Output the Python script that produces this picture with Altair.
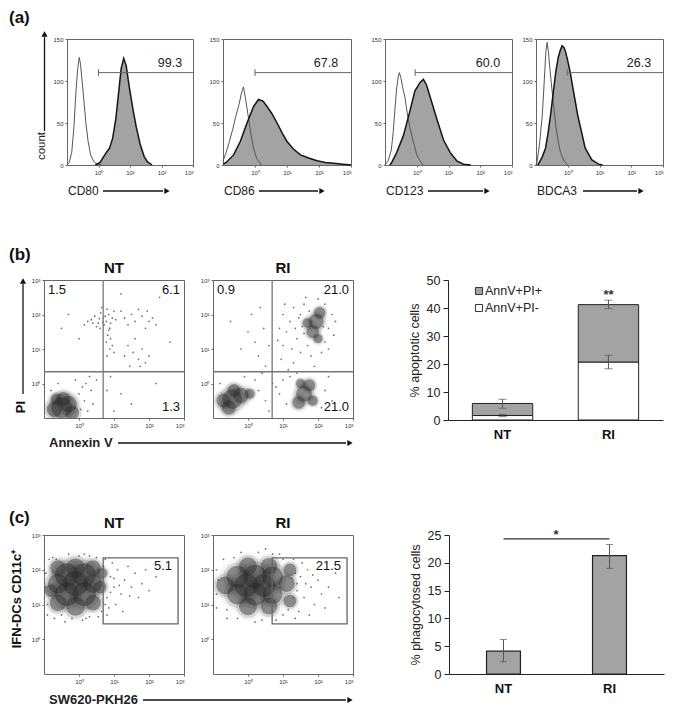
import altair as alt
import pandas as pd

FONT = "Liberation Sans"
INK = "#111111"
GREY_FILL = "#a3a3a3"
SUP = "'10' + ['\u2070','\u00b9','\u00b2','\u00b3'][datum.value]"

# ---------------- (a) histograms (x = log10 fluorescence, y = count)
hist_markers = ["CD80", "CD86", "CD123", "BDCA3"]
hist_gate_pct = ["99.3", "67.8", "60.0", "26.3"]
hist_gate_start = [0.0, 0.0, -0.05, -0.02]
hist_gate_end = 3.0
hist_gate_count = 110

cd80_ctrl_x = [-1.0, -0.93, -0.85, -0.78, -0.72, -0.66, -0.61, -0.57, -0.52, -0.46, -0.4, -0.33, -0.25, -0.15, -0.05, 0.1]
cd80_ctrl_y = [0, 3, 15, 45, 85, 115, 128, 120, 100, 75, 50, 28, 12, 4, 1, 0]
cd80_stain_x = [-0.1, 0.05, 0.15, 0.25, 0.35, 0.45, 0.55, 0.65, 0.72, 0.8, 0.88, 0.98, 1.1, 1.2, 1.32, 1.45, 1.55, 1.7]
cd80_stain_y = [0, 3, 9, 15, 20, 32, 55, 90, 115, 127, 118, 92, 65, 45, 25, 10, 4, 0]

cd86_ctrl_x = [-1.0, -0.9, -0.8, -0.7, -0.6, -0.5, -0.42, -0.36, -0.3, -0.22, -0.14, -0.06, 0.05, 0.2]
cd86_ctrl_y = [5, 15, 28, 42, 58, 72, 86, 93, 80, 60, 40, 22, 8, 0]
cd86_stain_x = [-1.0, -0.9, -0.67, -0.46, -0.25, -0.04, 0.11, 0.25, 0.37, 0.53, 0.69, 0.85, 1.0, 1.2, 1.42, 1.7, 1.94, 2.2, 2.46, 2.75, 3.0]
cd86_stain_y = [1, 3, 12, 28, 50, 70, 78, 76, 70, 61, 50, 38, 28, 19, 12, 8, 5, 3, 2, 1, 0]

cd123_ctrl_x = [-1.0, -0.9, -0.8, -0.74, -0.68, -0.63, -0.58, -0.55, -0.5, -0.44, -0.37, -0.3, -0.22, -0.11, 0.0, 0.1, 0.2]
cd123_ctrl_y = [0, 5, 18, 40, 70, 92, 106, 110, 104, 92, 80, 62, 45, 28, 12, 5, 0]
cd123_stain_x = [-0.85, -0.79, -0.63, -0.42, -0.21, -0.06, 0.1, 0.21, 0.31, 0.47, 0.63, 0.84, 1.05, 1.26, 1.47, 1.7]
cd123_stain_y = [0, 3, 15, 35, 65, 88, 98, 102, 95, 75, 55, 30, 15, 5, 1, 0]

bdca3_ctrl_x = [-1.0, -0.96, -0.88, -0.8, -0.74, -0.69, -0.65, -0.61, -0.57, -0.52, -0.47, -0.42, -0.37, -0.3, -0.23, -0.12, 0.0]
bdca3_ctrl_y = [0, 5, 28, 60, 100, 135, 146, 135, 118, 98, 80, 62, 45, 28, 15, 5, 0]
bdca3_stain_x = [-0.95, -0.91, -0.8, -0.7, -0.62, -0.54, -0.46, -0.38, -0.3, -0.24, -0.18, -0.12, -0.07, 0.0, 0.08, 0.16, 0.24, 0.32, 0.4, 0.55, 0.76, 0.97, 1.1]
bdca3_stain_y = [0, 2, 10, 20, 38, 60, 85, 110, 128, 136, 142, 140, 135, 124, 110, 92, 75, 58, 45, 20, 6, 1, 0]

# ---------------- (b) Annexin V / PI dot plots (log10 units)
b_quad_x = 0.69
b_quad_y = 0.34
b_nt_pct = ["1.5", "6.1", "1.3"]
b_ri_pct = ["0.9", "21.0", "21.0"]
b_nt_blobs = [(-0.5, -0.7, 55), (-0.3, -0.6, 35), (-0.7, -0.75, 30), (-0.45, -0.45, 25), (-0.2, -0.85, 25), (-0.65, -0.45, 15)]
b_nt_dots = [(0.35, 1.85), (0.45, 1.95), (0.55, 1.75), (0.62, 2.05), (0.7, 1.9), (0.78, 1.8), (0.85, 2.0), (0.5, 1.65),
             (0.6, 1.6), (0.72, 1.7), (0.9, 1.75), (0.95, 1.9), (1.0, 2.1), (0.4, 1.75), (0.25, 1.8), (0.15, 1.7),
             (0.65, 2.2), (0.8, 2.15), (1.05, 1.85), (0.58, 1.88), (0.68, 1.78), (0.75, 1.95), (0.88, 1.6),
             (1.3, 1.9), (1.5, 2.0), (1.6, 1.8), (1.8, 1.95), (1.95, 2.1), (2.1, 1.9), (1.7, 2.15), (1.4, 1.7),
             (2.2, 1.7), (1.9, 1.6), (1.2, 2.1), (2.0, 1.8),
             (0.82, 1.4), (0.78, 1.2), (0.88, 1.0), (0.8, 0.8), (0.9, 1.3), (0.95, 1.1), (1.0, 0.9), (0.85, 1.55),
             (1.4, 1.1), (1.55, 0.9), (1.7, 0.7), (1.8, 1.0), (1.9, 0.6), (1.6, 1.3), (1.75, 0.5), (2.0, 0.8),
             (1.45, 0.5), (1.3, 0.8),
             (-0.3, 2.0), (0.0, 1.3), (-0.5, 1.6), (1.2, 2.6), (2.3, 2.5), (2.6, 1.2),
             (0.0, -0.3), (0.1, -0.1), (0.2, 0.0), (0.3, 0.2), (0.15, -0.5), (0.35, -0.2), (-0.1, 0.1), (0.4, -0.6),
             (0.5, 0.1), (0.25, -0.8), (-0.8, -0.2), (-0.6, 0.0), (0.05, -0.75),
             (0.9, 0.2), (1.2, -0.3), (1.5, -0.6), (2.2, 0.0), (1.0, -0.8), (0.8, -0.2)]
b_ri_blobs = [(-0.45, -0.45, 50), (-0.2, -0.35, 30), (-0.7, -0.5, 25), (-0.4, -0.2, 20), (-0.55, -0.7, 25), (0.05, -0.3, 12),
              (1.6, -0.3, 32), (1.75, -0.05, 18), (1.45, -0.55, 20), (1.85, -0.5, 12), (1.5, 0.0, 10),
              (1.95, 1.8, 28), (1.85, 1.5, 20), (2.05, 2.05, 16), (1.7, 1.75, 12), (2.0, 1.3, 10)]
b_ri_dots = [(1.0, 2.0), (1.2, 1.8), (1.3, 2.2), (1.1, 1.5), (1.4, 1.3), (1.5, 2.0), (1.6, 2.3), (1.25, 1.0), (1.5, 0.9),
             (1.7, 1.1), (2.2, 1.2), (2.3, 1.6), (2.4, 2.0), (2.2, 2.3), (2.5, 1.8), (1.0, 1.1), (0.9, 1.6), (1.35, 1.6),
             (1.6, 1.45), (2.1, 0.9), (1.8, 0.8), (1.3, 0.6), (1.55, 1.65), (1.45, 1.9), (1.75, 2.1), (2.15, 1.65),
             (2.3, 1.0), (0.95, 0.7), (1.15, 0.4), (1.9, 0.5), (2.45, 1.4), (1.65, 2.5), (2.0, 2.45), (1.05, 2.3), (0.85, 1.25),
             (0.0, 1.5), (0.2, 1.2), (0.3, 0.8), (-0.2, 1.0), (0.1, 2.0), (0.45, 1.6), (0.5, 0.5), (-0.5, 1.8), (0.6, 1.1), (0.35, 2.2),
             (0.3, -0.2), (0.5, -0.5), (0.7, 0.0), (0.9, -0.3), (1.1, -0.6), (1.0, 0.1), (0.6, -0.8), (0.8, -0.1), (1.2, 0.2),
             (2.2, -0.2), (2.3, 0.2), (2.1, -0.7), (1.4, 0.3), (0.2, 0.1), (-0.1, 0.2), (-0.8, 0.0), (0.4, 0.3), (2.4, -0.5)]

# ---------------- (c) SW620-PKH26 uptake dot plots (log10 units)
c_gate = {"x0": 0.69, "x1": 2.83, "y0": 0.44, "y1": 2.34}
c_pct = ["5.1", "21.5"]
c_nt_blobs = [(-0.35, 1.85, 70), (0.15, 1.85, 70), (-0.35, 1.3, 70), (0.15, 1.3, 70), (-0.1, 1.6, 80), (-0.6, 1.6, 50),
              (0.4, 1.6, 45), (-0.1, 2.05, 45), (-0.1, 0.95, 45), (-0.6, 1.05, 35), (0.4, 1.05, 30), (-0.6, 2.05, 30),
              (0.4, 2.05, 30), (0.6, 1.5, 20), (0.65, 1.9, 15), (-0.8, 1.4, 20)]
c_nt_dots = [(0.8, 1.2), (0.9, 1.8), (1.0, 1.5), (1.1, 2.0), (1.2, 1.3), (0.85, 0.9), (1.3, 1.7), (1.5, 1.5), (1.4, 2.1),
             (1.6, 1.9), (1.7, 1.2), (1.8, 1.6), (1.9, 2.0), (2.0, 1.4), (0.95, 2.2), (1.05, 1.0), (1.25, 0.8), (0.75, 2.3),
             (0.8, 0.7), (-0.9, 0.7), (-0.7, 0.6), (-0.4, 0.5), (0.1, 0.55), (0.3, 0.65), (-0.85, 2.3), (-0.3, 2.45),
             (0.3, 2.4), (1.15, 1.55), (1.45, 1.25), (2.2, 1.8), (0.9, 1.35), (1.0, 1.75),
             (-0.9, 1.0), (-0.95, 1.9), (-0.75, 2.35), (0.0, 2.4), (0.5, 2.35), (0.65, 0.8), (0.2, 0.6), (-0.5, 0.7),
             (-0.95, 1.5), (0.7, 2.1), (0.75, 1.0), (-0.2, 0.6), (0.55, 0.65), (-0.65, 2.3), (0.15, 2.45)]
c_ri_blobs = [(-0.3, 1.8, 60), (0.2, 1.8, 70), (0.7, 1.8, 55), (-0.3, 1.3, 55), (0.2, 1.3, 65), (0.7, 1.3, 50),
              (-0.05, 1.55, 70), (0.45, 1.55, 65), (1.1, 1.6, 35), (-0.65, 1.55, 40), (0.0, 2.1, 40), (0.6, 2.1, 35),
              (0.0, 0.95, 40), (0.6, 0.95, 35), (1.2, 1.1, 20), (1.2, 2.0, 20)]
c_ri_dots = [(1.4, 1.4), (1.5, 1.8), (1.6, 1.2), (1.7, 2.0), (1.8, 1.5), (1.9, 1.0), (2.0, 1.7), (2.1, 1.3), (1.45, 0.8),
             (1.55, 2.2), (1.35, 0.6), (2.3, 1.5), (2.5, 1.9), (1.3, 2.3), (1.75, 0.7), (0.9, 2.45), (0.3, 2.5), (-0.4, 2.35),
             (-0.9, 0.9), (-0.6, 0.6), (0.2, 0.5), (0.8, 0.55), (2.2, 0.9), (1.65, 1.6), (1.85, 1.85), (1.25, 1.75),
             (2.6, 1.2), (0.5, 2.6),
             (-0.9, 1.3), (-0.9, 2.0), (-0.7, 2.3), (-0.2, 2.5), (1.0, 2.3), (1.3, 1.2), (1.35, 1.9), (1.0, 0.7),
             (0.4, 0.55), (-0.3, 0.6), (-0.85, 1.7), (1.4, 1.6), (0.7, 2.45), (1.15, 0.85), (-0.6, 0.85)]

# ---------------- bar charts
groups = ["NT", "RI"]
b_parts = ["AnnV+PI+", "AnnV+PI-"]
b_pi_neg = [1.6, 20.7]
b_pi_pos = [4.3, 20.5]
b_err_cat = ["NT", "NT", "RI", "RI"]
b_err_lo = [1.2, 4.2, 18.3, 39.8]
b_err_hi = [2.0, 7.4, 23.1, 42.8]
b_sig = "**"
b_sig_y = 44.8

c_vals = [4.1, 21.3]
c_err_lo = [2.2, 19.0]
c_err_hi = [6.2, 23.3]
c_sig = "*"
c_sig_line = 24.3
c_sig_y = 25.0

ONE = pd.DataFrame({"k": [0]})

# layout (pixels)
SPACE = 30
ROW_TOP = -38
ROW_A_BOTTOM = 239 - SPACE + ROW_TOP   # row (b) plots start 239 px below row (a) plots
ROW_B_BOTTOM = 253 - SPACE + ROW_TOP   # row (c) plots start 253 px below row (b) plots
LETTER_X = -35


def label(txt, x, y, size=12, weight="normal", angle=0, align="center", baseline="middle", color=INK):
    kw = dict(fontSize=size, fontWeight=weight, align=align, baseline=baseline, font=FONT, color=color)
    if angle:
        kw["angle"] = angle
    return alt.Chart(pd.DataFrame({"t": [txt]})).mark_text(**kw).encode(
        x=alt.value(x), y=alt.value(y), text="t:N")


def hline(x1, x2, y, color=INK, w=1.2):
    return alt.Chart(ONE).mark_rule(color=color, strokeWidth=w).encode(
        x=alt.value(x1), x2=alt.value(x2), y=alt.value(y))


def vline(x, y1, y2, color=INK, w=1.2):
    return alt.Chart(ONE).mark_rule(color=color, strokeWidth=w).encode(
        x=alt.value(x), y=alt.value(y1), y2=alt.value(y2))


def head(x, y, shape):
    return alt.Chart(ONE).mark_point(shape=shape, filled=True, size=38, color=INK, opacity=1).encode(
        x=alt.value(x), y=alt.value(y))


def anchor(y):
    # invisible marker that fixes the vertical extent of a row
    return alt.Chart(ONE).mark_point(size=1, opacity=0).encode(x=alt.value(20), y=alt.value(y))


def swatch(x, y, fill):
    return alt.Chart(ONE).mark_point(shape="square", filled=True, size=50, fill=fill, stroke="#333",
                                     strokeWidth=1, opacity=1).encode(x=alt.value(x), y=alt.value(y))


def small_axis(values, sup):
    kw = dict(values=values, title=None, grid=False, domain=False, tickSize=2, tickColor="#666",
              labelFontSize=6, labelColor="#333", labelPadding=2)
    if sup:
        kw["labelExpr"] = SUP
    return alt.Axis(**kw)


def spacer(w, h=1):
    return alt.Chart(ONE).mark_point(opacity=0, size=1).encode(x=alt.value(0), y=alt.value(0)).properties(
        width=w, height=h, view=alt.ViewBackground(stroke="transparent"))


def hist_panel(i, cx, cy, sx, sy, width, first):
    xs = alt.Scale(domain=[-1, 3], nice=False, zero=False)
    ys = alt.Scale(domain=[0, 150], nice=False)
    xax = small_axis([0, 1, 2, 3], True)
    yax = small_axis([0, 50, 100, 150], False)
    sdf = pd.DataFrame({"x": sx, "y": sy})
    fill = alt.Chart(sdf).mark_area(fill=GREY_FILL, fillOpacity=1).encode(
        x=alt.X("x:Q", scale=xs, axis=xax), y=alt.Y("y:Q", scale=ys, axis=yax))
    ctrl = alt.Chart(pd.DataFrame({"x": cx, "y": cy})).mark_line(color="#555", strokeWidth=1).encode(
        x="x:Q", y="y:Q")
    outline = alt.Chart(sdf).mark_line(color="#151515", strokeWidth=1.5).encode(x="x:Q", y="y:Q")
    gdf = pd.DataFrame({"x0": [hist_gate_start[i]], "x1": [hist_gate_end], "c": [hist_gate_count],
                        "lo": [hist_gate_count - 4], "hi": [hist_gate_count + 4]})
    gate = alt.Chart(gdf).mark_rule(color="#666", strokeWidth=1).encode(x="x0:Q", x2="x1:Q", y="c:Q")
    gtick = alt.Chart(gdf).mark_rule(color="#666", strokeWidth=1).encode(x="x0:Q", y="lo:Q", y2="hi:Q")
    layers = [fill, ctrl, outline, gate, gtick,
              label(hist_gate_pct[i], 103, 24, size=12.5, color="#222")]
    arrow_start = [36, 36, 43, 47][i]
    arrow_end = [100, 99, 102, 105][i]
    layers += [label(hist_markers[i], 1, 152, size=12, align="left", color="#222"),
               hline(arrow_start, arrow_end - 4, 152, w=1.3),
               head(arrow_end, 152, "triangle-right")]
    if first:
        layers += [label("(a)", LETTER_X - 23, -21, size=17, weight="bold", align="left"),
                   label("count", -25, 107, size=11.5, angle=270, color="#222"),
                   vline(-22.5, 92, -2, w=1.3),
                   head(-22.5, -5, "triangle-up"),
                   anchor(ROW_A_BOTTOM)]
    return alt.layer(*layers).properties(width=width, height=126)


def dot_panel(title, blobs, dots, width, height, extras):
    xs = alt.Scale(domain=[-1, 3], nice=False, zero=False)
    ys = alt.Scale(domain=[-1, 3], nice=False, zero=False)
    xax = small_axis([0, 1, 2, 3], True)
    yax = small_axis([0, 1, 2, 3], True)
    bdf = pd.DataFrame(blobs, columns=["x", "y", "n"])
    outer = alt.Chart(bdf).mark_circle(color="#666", opacity=0.06, clip=True).encode(
        x=alt.X("x:Q", scale=xs, axis=xax), y=alt.Y("y:Q", scale=ys, axis=yax),
        size=alt.Size("n:Q", scale=alt.Scale(domain=[0, 100], range=[0, 2000]), legend=None))
    mid = alt.Chart(bdf).mark_circle(color="#444", opacity=0.17, clip=True).encode(
        x="x:Q", y="y:Q",
        size=alt.Size("n:Q", scale=alt.Scale(domain=[0, 100], range=[0, 1350]), legend=None))
    core = alt.Chart(bdf).mark_circle(color="#262626", opacity=0.44, clip=True).encode(
        x="x:Q", y="y:Q",
        size=alt.Size("n:Q", scale=alt.Scale(domain=[0, 100], range=[0, 800]), legend=None))
    sp = alt.Chart(pd.DataFrame(dots, columns=["x", "y"])).mark_circle(
        size=3, color="#555", opacity=0.85, clip=True).encode(x="x:Q", y="y:Q")
    layers = [outer, mid, core, sp] + extras + [label(title, width / 2, -12, size=15, weight="bold")]
    return alt.layer(*layers).resolve_scale(size="independent").properties(width=width, height=height)


# ---- row (b) dot plots
def b_extras(pct, first):
    q = pd.DataFrame({"qx": [b_quad_x], "qy": [b_quad_y]})
    ex = [alt.Chart(q).mark_rule(color="#777", strokeWidth=1.3).encode(x="qx:Q"),
          alt.Chart(q).mark_rule(color="#777", strokeWidth=1.3).encode(y="qy:Q"),
          label(pct[0], 4, 10, size=13, align="left"),
          label(pct[1], 136, 10, size=13, align="right"),
          label(pct[2], 136, 127, size=13, align="right")]
    if first:
        ex += [label("(b)", LETTER_X, -25, size=17, weight="bold", align="left"),
               label("PI", -23, 127, size=13, weight="bold", angle=270),
               vline(-21, 114, 4, w=1.3), head(-21, 1, "triangle-up"),
               label("Annexin V", 5, 163, size=13, weight="bold", align="left", color="#222"),
               hline(74, 302, 163, w=1.3), head(306, 163, "triangle-right"),
               anchor(ROW_TOP), anchor(ROW_B_BOTTOM)]
    return ex


bNT = dot_panel("NT", b_nt_blobs, b_nt_dots, 140, 138, b_extras(b_nt_pct, True))
bRI = dot_panel("RI", b_ri_blobs, b_ri_dots, 140, 138, b_extras(b_ri_pct, False))


# ---- row (c) dot plots
def c_extras(pct, first):
    g = pd.DataFrame({k: [v] for k, v in c_gate.items()})
    ex = [alt.Chart(g).mark_rect(fillOpacity=0, stroke="#666", strokeWidth=1.3).encode(
        x="x0:Q", x2="x1:Q", y="y0:Q", y2="y1:Q"),
          label(pct, 128, 31, size=13, align="right")]
    if first:
        ex += [label("(c)", LETTER_X, -17, size=17, weight="bold", align="left"),
               label("IFN-DCs  CD11c\u207a", -27, 64, size=13, weight="bold", angle=270),
               label("SW620-PKH26", 5, 165, size=13, weight="bold", align="left", color="#222"),
               hline(99, 302, 165, w=1.3), head(306, 165, "triangle-right"),
               anchor(ROW_TOP)]
    return ex


cNT = dot_panel("NT", c_nt_blobs, c_nt_dots, 140, 139, c_extras(c_pct[0], True))
cRI = dot_panel("RI", c_ri_blobs, c_ri_dots, 140, 139, c_extras(c_pct[1], False))


# ---- bar charts
def bar_axes(domain_max, step, title):
    yax = alt.Axis(values=list(range(0, domain_max + 1, step)), title=title, titleFontSize=12.5,
                   titleFontWeight="normal", titleColor="#222", labelFontSize=12.5, labelColor="#222",
                   tickSize=5, tickColor="#222", domainColor="#222", grid=False, titlePadding=5, labelPadding=3)
    xax = alt.Axis(title=None, labelAngle=0, labelFontSize=13, labelFontWeight="bold", labelColor=INK,
                   ticks=False, domainColor="#222", labelPadding=8)
    return xax, yax


def bar_b():
    xs = alt.Scale(domain=groups, paddingInner=0.43, paddingOuter=0.23)
    ys = alt.Scale(domain=[0, 50], nice=False)
    xax, yax = bar_axes(50, 10, "% apoptotic cells")
    parts = pd.DataFrame({"cat": groups + groups,
                          "part": [b_parts[1]] * 2 + [b_parts[0]] * 2,
                          "val": b_pi_neg + b_pi_pos,
                          "ord": [0, 0, 1, 1]})
    bars = alt.Chart(parts).mark_bar(stroke="#222", strokeWidth=1).encode(
        x=alt.X("cat:N", scale=xs, axis=xax),
        y=alt.Y("val:Q", stack="zero", scale=ys, axis=yax),
        color=alt.Color("part:N", scale=alt.Scale(domain=b_parts, range=[GREY_FILL, "#ffffff"]), legend=None),
        order=alt.Order("ord:Q"))
    err = pd.DataFrame({"cat": b_err_cat, "lo": b_err_lo, "hi": b_err_hi})
    rule = alt.Chart(err).mark_rule(color="#555", strokeWidth=1).encode(
        x=alt.X("cat:N", scale=xs, axis=xax), y=alt.Y("lo:Q", scale=ys, axis=yax), y2="hi:Q")
    cap_lo = alt.Chart(err).mark_tick(color="#555", orient="horizontal", size=8, thickness=1).encode(
        x=alt.X("cat:N", scale=xs, axis=xax), y=alt.Y("lo:Q", scale=ys, axis=yax))
    cap_hi = alt.Chart(err).mark_tick(color="#555", orient="horizontal", size=8, thickness=1).encode(
        x=alt.X("cat:N", scale=xs, axis=xax), y=alt.Y("hi:Q", scale=ys, axis=yax))
    sig = alt.Chart(pd.DataFrame({"cat": ["RI"], "y": [b_sig_y], "t": [b_sig]})).mark_text(
        fontSize=13, fontWeight="bold", font=FONT, color="#333").encode(
        x=alt.X("cat:N", scale=xs, axis=xax), y=alt.Y("y:Q", scale=ys, axis=yax), text="t:N")
    legend = [swatch(31, 11, GREY_FILL), label(b_parts[0], 37, 11, size=12.5, align="left", color="#222"),
              swatch(31, 28, "#ffffff"), label(b_parts[1], 37, 28, size=12.5, align="left", color="#222")]
    return alt.layer(bars, rule, cap_lo, cap_hi, sig, *legend).properties(
        width=215, height=140, view=alt.ViewBackground(stroke="transparent"))


def bar_c():
    xs = alt.Scale(domain=groups, paddingInner=0.68, paddingOuter=0.354)
    ys = alt.Scale(domain=[0, 25], nice=False)
    xax, yax = bar_axes(25, 5, "% phagocytosed cells")
    df = pd.DataFrame({"cat": groups, "val": c_vals, "lo": c_err_lo, "hi": c_err_hi})
    bars = alt.Chart(df).mark_bar(fill=GREY_FILL, stroke="#222", strokeWidth=1.2).encode(
        x=alt.X("cat:N", scale=xs, axis=xax), y=alt.Y("val:Q", scale=ys, axis=yax))
    rule = alt.Chart(df).mark_rule(color="#555", strokeWidth=1).encode(
        x=alt.X("cat:N", scale=xs, axis=xax), y=alt.Y("lo:Q", scale=ys, axis=yax), y2="hi:Q")
    cap_lo = alt.Chart(df).mark_tick(color="#555", orient="horizontal", size=7, thickness=1).encode(
        x=alt.X("cat:N", scale=xs, axis=xax), y=alt.Y("lo:Q", scale=ys, axis=yax))
    cap_hi = alt.Chart(df).mark_tick(color="#555", orient="horizontal", size=7, thickness=1).encode(
        x=alt.X("cat:N", scale=xs, axis=xax), y=alt.Y("hi:Q", scale=ys, axis=yax))
    sdf = pd.DataFrame({"cat": groups, "y": [c_sig_line, c_sig_line]})
    sline = alt.Chart(sdf).mark_line(color="#333", strokeWidth=1.2).encode(
        x=alt.X("cat:N", scale=xs, axis=xax), y=alt.Y("y:Q", scale=ys, axis=yax))
    star = alt.Chart(pd.DataFrame({"y": [c_sig_y], "t": [c_sig]})).mark_text(
        fontSize=13, fontWeight="bold", font=FONT, color="#333").encode(
        x=alt.value(107), y=alt.Y("y:Q", scale=ys, axis=yax), text="t:N")
    return alt.layer(bars, rule, cap_lo, cap_hi, sline, star).properties(
        width=215, height=139, view=alt.ViewBackground(stroke="transparent"))


hist_data = [(cd80_ctrl_x, cd80_ctrl_y, cd80_stain_x, cd80_stain_y),
             (cd86_ctrl_x, cd86_ctrl_y, cd86_stain_x, cd86_stain_y),
             (cd123_ctrl_x, cd123_ctrl_y, cd123_stain_x, cd123_stain_y),
             (bdca3_ctrl_x, bdca3_ctrl_y, bdca3_stain_x, bdca3_stain_y)]
hist_w = [126, 128, 127, 127]
H = [hist_panel(i, *hist_data[i], hist_w[i], i == 0) for i in range(4)]

rowA = alt.hconcat(spacer(23), H[0], spacer(30), H[1], spacer(34), H[2], spacer(24), H[3],
                   spacing=0, bounds="flush")
rowB = alt.hconcat(bNT, spacer(29), bRI, spacer(95), bar_b(), spacing=0, bounds="flush")
rowC = alt.hconcat(cNT, spacer(29), cRI, spacer(96), bar_c(), spacing=0, bounds="flush")

chart = alt.vconcat(rowA, rowB, rowC, spacing=SPACE).properties(padding=0).configure_view(
    stroke="#666", strokeWidth=1).configure_axis(labelFont=FONT, titleFont=FONT).configure_text(font=FONT)

chart.save("out.html", embed_options={"renderer": "svg", "actions": False})
